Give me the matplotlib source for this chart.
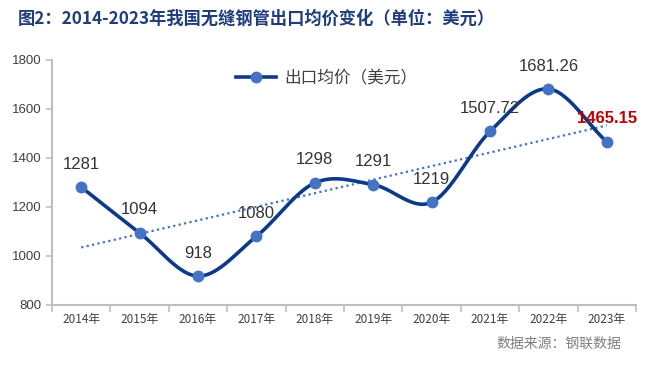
import numpy as np
import matplotlib
matplotlib.use("Agg")
import matplotlib.pyplot as plt

plt.rcParams['font.family'] = ['Noto Sans CJK SC', 'DejaVu Sans']

# Data
years = ["2014年", "2015年", "2016年", "2017年", "2018年", "2019年", "2020年", "2021年", "2022年", "2023年"]
prices = [1281, 1094, 918, 1080, 1298, 1291, 1219, 1507.72, 1681.26, 1465.15]
price_labels = ["1281", "1094", "918", "1080", "1298", "1291", "1219", "1507.72", "1681.26", "1465.15"]
y_ticks = [800, 1000, 1200, 1400, 1600, 1800]

x = np.arange(len(years))
y = np.array(prices)


# Catmull-Rom smoothing like the spreadsheet's smoothed line
def smooth(xs, ys, n=30):
    px = np.concatenate([[2 * xs[0] - xs[1]], xs, [2 * xs[-1] - xs[-2]]])
    py = np.concatenate([[2 * ys[0] - ys[1]], ys, [2 * ys[-1] - ys[-2]]])
    out_x, out_y = [], []
    for i in range(1, len(px) - 2):
        t = np.linspace(0, 1, n)
        for arr, out in ((px, out_x), (py, out_y)):
            p0, p1, p2, p3 = arr[i - 1], arr[i], arr[i + 1], arr[i + 2]
            out.extend(0.5 * ((2 * p1) + (-p0 + p2) * t
                              + (2 * p0 - 5 * p1 + 4 * p2 - p3) * t ** 2
                              + (-p0 + 3 * p1 - 3 * p2 + p3) * t ** 3))
    return np.array(out_x), np.array(out_y)


sx, sy = smooth(x.astype(float), y)

fig = plt.figure(figsize=(6.54, 3.67), dpi=100)
ax = fig.add_axes([0.0795, 0.169, 0.893, 0.668])

ax.plot(sx, sy, color="#0B3A88", lw=2.6, zorder=3)
ax.plot(x, y, "o", color="#4472C4", ms=7.5, zorder=4)
legend_line, = ax.plot([], [], color="#0B3A88", lw=2.6, marker="o",
                       markerfacecolor="#4472C4", markeredgecolor="#4472C4", ms=7.5)

# linear trend
k, b = np.polyfit(x, y, 1)
ax.plot(x, k * x + b, ls=(0, (1, 1.5)), color="#4472C4", lw=1.6, zorder=2)

for i, (xv, yv) in enumerate(zip(x, y)):
    last = i == len(x) - 1
    ax.annotate(price_labels[i], (xv, yv), xytext=(0, 16.5), textcoords="offset points",
                ha="center", va="center", fontsize=12,
                color="#C00000" if last else "#333333",
                fontweight="bold" if last else "normal",
                family=["Liberation Sans"], zorder=5)

ax.set_xlim(-0.5, len(x) - 0.5)
ax.set_ylim(800, 1800)
ax.set_yticks(y_ticks)
ax.set_yticklabels([str(v) for v in y_ticks], fontsize=9.5, color="#404040",
                   family=["Liberation Sans"])
ax.set_xticks(x)
ax.set_xticklabels(years, fontsize=8.5, color="#404040")
ax.set_xticks(np.arange(-0.5, len(x)), minor=True)
ax.tick_params(axis="x", which="major", length=0, pad=6)
ax.tick_params(axis="x", which="minor", length=5, color="#BFBFBF", width=1.2)
ax.tick_params(axis="y", length=4, color="#BFBFBF", width=1.2)

for side in ("top", "right"):
    ax.spines[side].set_visible(False)
for side in ("left", "bottom"):
    ax.spines[side].set_color("#BFBFBF")
    ax.spines[side].set_linewidth(1.5)

ax.legend([legend_line], ["出口均价（美元）"], loc="upper left",
          bbox_to_anchor=(0.29, 1.02), frameon=False, fontsize=12,
          handlelength=2.4, handletextpad=0.5, labelcolor="#404040")

fig.text(0.027, 0.948, "图2：2014-2023年我国无缝钢管出口均价变化（单位：美元）",
         fontsize=12.4, fontweight="bold", color="#1F3D7A", va="center")
fig.text(0.95, 0.062, "数据来源：钢联数据", fontsize=10, color="#7F7F7F", ha="right", va="center")

fig.savefig("out.png", dpi=100)
